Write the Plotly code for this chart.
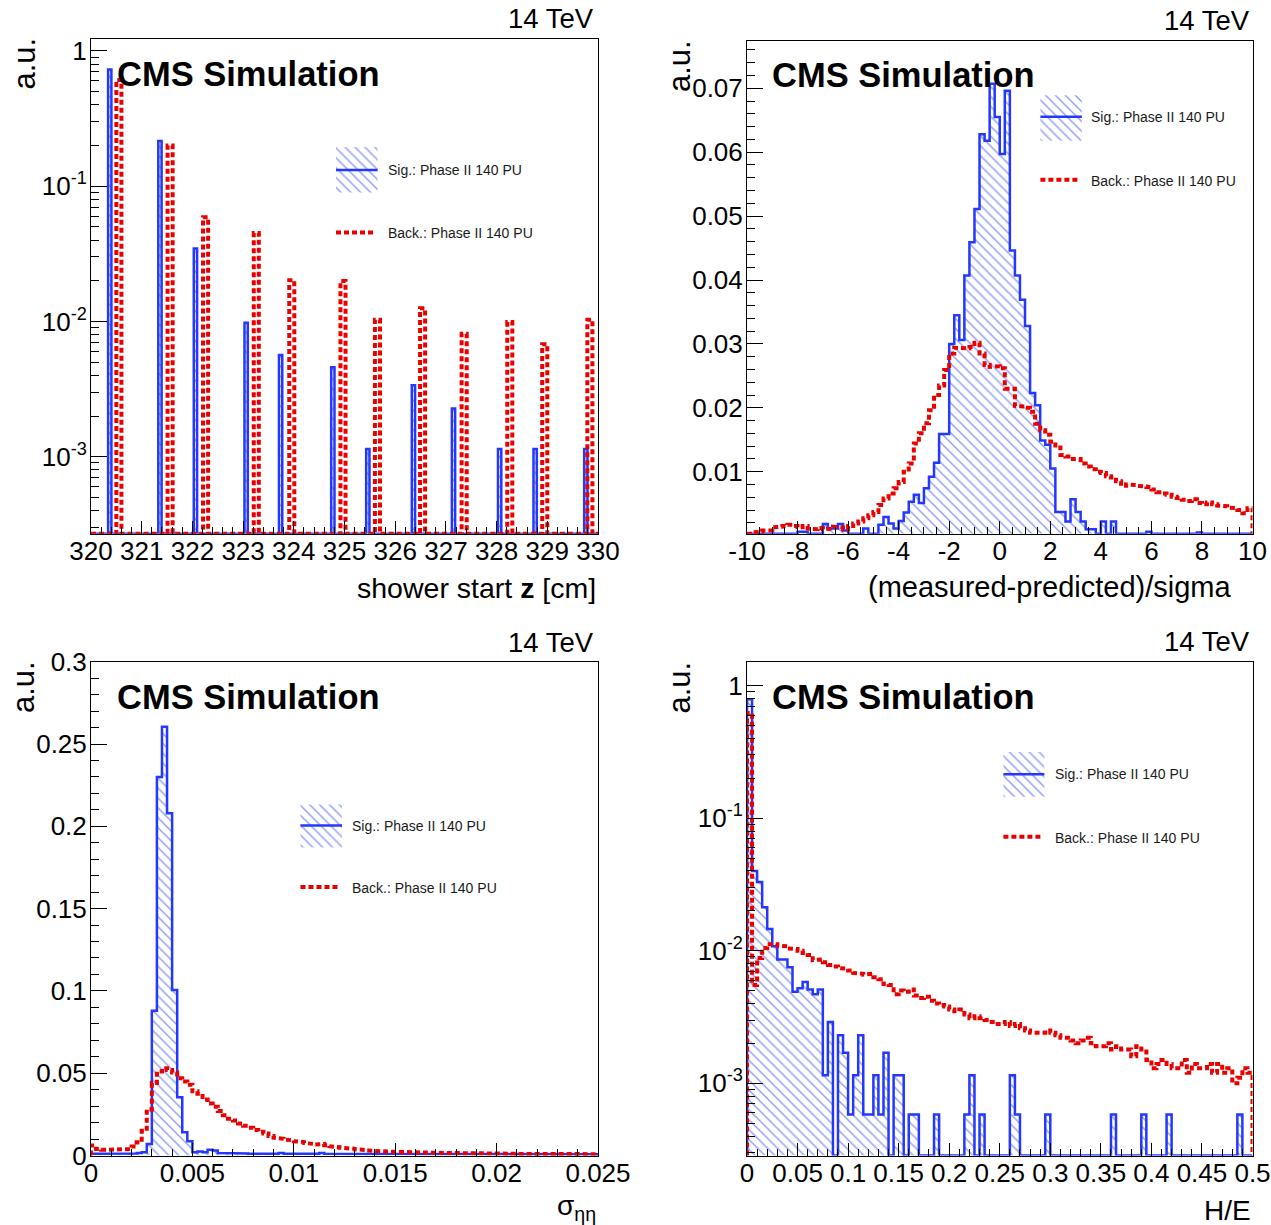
import plotly.graph_objects as go

W, H = 1271, 1225

# ---------------- DATA ----------------
# Panel 1: shower start z [cm] (narrow histogram bins)
sig_z_centers = [320.37, 321.36, 322.06, 323.06, 323.74, 324.77, 325.46, 326.36, 327.15, 328.06, 328.76, 329.76]
sig_z_values = [0.73, 0.216, 0.0347, 0.0098, 0.00566, 0.00458, 0.00114, 0.00338, 0.00227, 0.00114, 0.00114, 0.00114]
bkg_z_centers = [320.55, 321.56, 322.26, 323.26, 323.96, 324.97, 325.65, 326.54, 327.36, 328.26, 328.95, 329.84]
bkg_z_values = [0.61, 0.20, 0.059, 0.045, 0.0202, 0.0199, 0.0103, 0.0125, 0.0081, 0.0099, 0.0068, 0.0103]
z_range = [320, 330]

# Panel 2: (measured-predicted)/sigma, 100 bins in [-10, 10]
pull_range = [-10, 10]
pull_ticks = [-10, -8, -6, -4, -2, 0, 2, 4, 6, 8, 10]
pull_ticklabels = ["-10", "-8", "-6", "-4", "-2", "0", "2", "4", "6", "8", "10"]
sig_pull = [
    0, 0, 0, 0, 0, 0, 0, 0, 0, 0,
    0.0006, 0.0006, 0, 0, 0, 0.0018, 0.0011, 0.0011, 0.0018, 0.0008,
    0, 0, 0, 0.0011, 0, 0, 0.0017, 0.0029, 0.0019, 0.0011,
    0.0023, 0.0036, 0.0053, 0.0064, 0.0051, 0.0074, 0.0092, 0.0114, 0.0159, 0.0159,
    0.0300, 0.0345, 0.0306, 0.0407, 0.0459, 0.0511, 0.0628, 0.0618, 0.0707, 0.0655,
    0.0597, 0.0696, 0.0446, 0.0407, 0.0369, 0.0328, 0.0223, 0.0204, 0.0149, 0.0142,
    0.0105, 0.0037, 0.0037, 0.0022, 0.0057, 0.0037, 0.0022, 0.0010, 0.0010, 0,
    0.0022, 0, 0.0022, 0, 0, 0, 0, 0, 0, 0.0006,
    0, 0, 0, 0, 0, 0, 0, 0, 0, 0.0005,
    0, 0, 0, 0, 0, 0, 0, 0, 0, 0,
]
bkg_pull = [
    0.0003, 0.0005, 0.0006, 0.0008, 0.0008, 0.0013, 0.0014, 0.0015, 0.0017, 0.0015,
    0.0013, 0.0015, 0.0011, 0.0010, 0.0012, 0.0010, 0.0011, 0.0014, 0.0013, 0.0010,
    0.0015, 0.0019, 0.0022, 0.0027, 0.0032, 0.0037, 0.0048, 0.0058, 0.0066, 0.0074,
    0.0084, 0.0100, 0.0113, 0.0144, 0.0160, 0.0176, 0.0196, 0.0220, 0.0235, 0.0259,
    0.0285, 0.0294, 0.0294, 0.0293, 0.0295, 0.0302, 0.0285, 0.0267, 0.0264, 0.0265,
    0.0262, 0.0230, 0.0230, 0.0203, 0.0202, 0.0200, 0.0194, 0.0175, 0.0165, 0.0158,
    0.0147, 0.0138, 0.0126, 0.0124, 0.0120, 0.0120, 0.0113, 0.0108, 0.0104, 0.0100,
    0.0098, 0.0093, 0.0091, 0.0085, 0.0078, 0.0080, 0.0079, 0.0078, 0.0077, 0.0076,
    0.0072, 0.0068, 0.0066, 0.0064, 0.0061, 0.0059, 0.0056, 0.0054, 0.0057, 0.0051,
    0.0049, 0.0052, 0.0049, 0.0047, 0.0046, 0.0044, 0.0043, 0.0040, 0.0035, 0.0043,
]

# Panel 3: sigma_ieta_ieta, 100 bins in [0, 0.025]
sieie_range = [0, 0.025]
sig_sieie = [
    0.0010, 0.0010, 0.0012, 0.0010, 0.0010, 0.0012, 0.0010, 0.0010, 0.0012, 0.0015,
    0.0020, 0.0070, 0.0880, 0.2300, 0.2605, 0.2080, 0.1006, 0.0354, 0.0142, 0.0087,
    0.0020, 0.0025, 0.0020, 0.0035, 0.0030, 0.0015, 0.0015, 0.0012, 0.0015, 0.0012,
    0.0012, 0.0010, 0.0012, 0.0010, 0.0012, 0.0010, 0.0010, 0.0015, 0.0010, 0.0010,
    0.0010, 0.0012, 0.0010, 0.0012, 0.0010, 0.0015, 0.0010, 0.0010, 0.0010, 0.0012,
    0.0010, 0.0010, 0.0008, 0.0010, 0.0010, 0.0008, 0.0010, 0.0008, 0.0010, 0.0008,
    0.0008, 0.0010, 0.0008, 0.0008, 0.0010, 0.0008, 0.0008, 0.0008, 0.0010, 0.0008,
    0.0008, 0.0008, 0.0008, 0.0010, 0.0008, 0.0008, 0.0008, 0.0008, 0.0008, 0.0008,
    0.0008, 0.0008, 0.0008, 0.0008, 0.0008, 0.0008, 0.0008, 0.0008, 0.0008, 0.0008,
    0.0008, 0.0008, 0.0008, 0.0008, 0.0008, 0.0008, 0.0008, 0.0008, 0.0008, 0.0008,
]
bkg_sieie = [
    0.0060, 0.0040, 0.0035, 0.0035, 0.0035, 0.0035, 0.0036, 0.0040, 0.0055, 0.0080,
    0.0150, 0.0280, 0.0440, 0.0510, 0.0530, 0.0520, 0.0505, 0.0470, 0.0450, 0.0430,
    0.0390, 0.0375, 0.0340, 0.0316, 0.0296, 0.0271, 0.0245, 0.0224, 0.0212, 0.0194,
    0.0180, 0.0169, 0.0155, 0.0145, 0.0133, 0.0118, 0.0108, 0.0102, 0.0097, 0.0092,
    0.0086, 0.0082, 0.0076, 0.0070, 0.0066, 0.0070, 0.0063, 0.0056, 0.0051, 0.0047,
    0.0044, 0.0041, 0.0038, 0.0034, 0.0031, 0.0029, 0.0027, 0.0025, 0.0024, 0.0022,
    0.0021, 0.0020, 0.0019, 0.0019, 0.0018, 0.0018, 0.0017, 0.0016, 0.0017, 0.0015,
    0.0015, 0.0014, 0.0015, 0.0013, 0.0014, 0.0013, 0.0012, 0.0013, 0.0012, 0.0011,
    0.0012, 0.0012, 0.0011, 0.0010, 0.0012, 0.0011, 0.0010, 0.0011, 0.0010, 0.0011,
    0.0010, 0.0009, 0.0011, 0.0010, 0.0009, 0.0010, 0.0009, 0.0010, 0.0009, 0.0008,
]

# Panel 4: H/E, 100 bins in [0, 0.5]
hoe_range = [0, 0.5]
sig_hoe = [
    0.79, 0.040, 0.033, 0.0213, 0.0146, 0.0108, 0.0086, 0.0086, 0.0075, 0.0049,
    0.0052, 0.0058, 0.0051, 0.0047, 0.0051, 0.00115, 0.0029, 0, 0.0023, 0.0017,
    0.00058, 0.00115, 0.0023, 0.00058, 0.00058, 0.00115, 0.00058, 0.0017, 0, 0.00115,
    0.00115, 0, 0.00058, 0.00058, 0, 0, 0, 0.00058, 0, 0,
    0, 0, 0, 0.00058, 0.00115, 0, 0.00058, 0, 0, 0,
    0, 0, 0.00115, 0.00058, 0, 0, 0, 0, 0, 0.00058,
    0, 0, 0, 0, 0, 0, 0, 0, 0, 0,
    0, 0, 0.00058, 0, 0, 0, 0, 0, 0.00058, 0,
    0, 0, 0, 0.00058, 0, 0, 0, 0, 0, 0,
    0, 0, 0, 0, 0, 0, 0, 0.00058, 0, 0,
]
bkg_hoe = [
    0.62, 0.0055, 0.0088, 0.0105, 0.0112, 0.0112, 0.0109, 0.0108, 0.0104, 0.0103,
    0.0100, 0.0096, 0.0093, 0.0085, 0.0086, 0.0082, 0.0078, 0.0076, 0.0074, 0.0073,
    0.0071, 0.0068, 0.0067, 0.0066, 0.0067, 0.0063, 0.0061, 0.0056, 0.0055, 0.0047,
    0.0050, 0.0049, 0.0051, 0.0046, 0.0044, 0.0045, 0.0042, 0.0040, 0.0039, 0.0038,
    0.0036, 0.0035, 0.0036, 0.0033, 0.0031, 0.0032, 0.0031, 0.0030, 0.0029, 0.0028,
    0.0028, 0.0029, 0.0027, 0.0028, 0.0026, 0.0025, 0.0024, 0.0024, 0.0024, 0.0025,
    0.0024, 0.0023, 0.0022, 0.0022, 0.0021, 0.0020, 0.0021, 0.0022, 0.0020, 0.0019,
    0.0019, 0.0020, 0.0018, 0.0019, 0.0018, 0.0018, 0.0016, 0.0019, 0.0018, 0.0015,
    0.0013, 0.0014, 0.0015, 0.0014, 0.0013, 0.0013, 0.0015, 0.0012, 0.0014, 0.0013,
    0.0013, 0.0014, 0.0012, 0.0014, 0.0012, 0.0013, 0.0010, 0.0011, 0.0013, 0.0012,
]

log_ticks = [1e-3, 1e-2, 1e-1, 1]
log_ticklabels = ["10<sup>-3</sup>", "10<sup>-2</sup>", "10<sup>-1</sup>", "1"]
sig_label = "Sig.: Phase II 140 PU"
bkg_label = "Back.: Phase II 140 PU"

# ---------------- STYLE ----------------
BLUE = "rgb(35,55,255)"
RED = "rgb(235,0,0)"
HATCH = dict(shape="\\", size=7, solidity=0.2, fgcolor="rgba(110,130,240,0.8)", bgcolor="rgba(255,255,255,0)")
FONT = "Liberation Sans"
RED_DASH = "5px,3px"

# frames in pixel coordinates (x0, x1, ytop, ybottom)
frames = {
    1: (91, 598, 38.5, 533.7),
    2: (747, 1252.5, 41, 533.7),
    3: (91, 598, 661.7, 1155.5),
    4: (747, 1252.5, 662.4, 1155.5),
}


def dom(i):
    x0, x1, yt, yb = frames[i]
    return [x0 / W, x1 / W], [1 - yb / H, 1 - yt / H]


def step_path(lo, hi, vals, floor):
    n = len(vals)
    w = (hi - lo) / n
    xs, ys = [lo], [floor]
    for i, v in enumerate(vals):
        v = max(v, floor)
        xs += [lo + i * w, lo + (i + 1) * w]
        ys += [v, v]
    xs.append(hi)
    ys.append(floor)
    return xs, ys


def bar_path(centers, vals, width, lo, hi, floor):
    xs, ys = [lo], [floor]
    for c, v in zip(centers, vals):
        a, b = c - width / 2, c + width / 2
        xs += [a, a, b, b]
        ys += [floor, max(v, floor), max(v, floor), floor]
    xs.append(hi)
    ys.append(floor)
    return xs, ys


fig = go.Figure()


def add_hists(i, sig_xy, bkg_xy):
    xa, ya = ("x", "y") if i == 1 else (f"x{i}", f"y{i}")
    fig.add_trace(go.Scatter(x=sig_xy[0], y=sig_xy[1], xaxis=xa, yaxis=ya, mode="lines",
                             fill="toself", fillcolor="rgba(255,255,255,0)", fillpattern=HATCH,
                             line=dict(color=BLUE, width=2.5), hoverinfo="skip"))
    fig.add_trace(go.Scatter(x=bkg_xy[0], y=bkg_xy[1], xaxis=xa, yaxis=ya, mode="lines",
                             line=dict(color=RED, width=4, dash=RED_DASH), hoverinfo="skip"))


# y-range definitions
y1_log = [-3.569, 0.092]
y2_lin = [0.0003, 0.0774]
y3_lin = [0.0, 0.3]
y4_log = [-3.545, 0.175]

f1 = 10 ** y1_log[0]
add_hists(1, bar_path(sig_z_centers, sig_z_values, 0.065, z_range[0], z_range[1], f1),
          bar_path(bkg_z_centers, bkg_z_values, 0.10, z_range[0], z_range[1], f1))
add_hists(2, step_path(pull_range[0], pull_range[1], sig_pull, y2_lin[0]),
          step_path(pull_range[0], pull_range[1], bkg_pull, y2_lin[0]))
add_hists(3, step_path(sieie_range[0], sieie_range[1], sig_sieie, y3_lin[0]),
          step_path(sieie_range[0], sieie_range[1], bkg_sieie, y3_lin[0]))
f4 = 10 ** y4_log[0]
add_hists(4, step_path(hoe_range[0], hoe_range[1], sig_hoe, f4),
          step_path(hoe_range[0], hoe_range[1], bkg_hoe, f4))

# ---------------- AXES ----------------
TICKFONT = dict(family=FONT, size=26, color="black")


def base_axis(kind):
    d = dict(showline=True, linecolor="black", linewidth=1, mirror=True, ticks="inside",
             tickcolor="black", tickwidth=1, showgrid=False, zeroline=False, automargin=False,
             tickfont=TICKFONT, fixedrange=True)
    d["ticklabelstandoff"] = -6 if kind == "x" else -2
    return d


def log_minor(lo, hi):
    vals = []
    for e in range(int(lo) - 1, int(hi) + 1):
        for m in range(2, 10):
            v = m * 10 ** e
            if 10 ** lo <= v <= 10 ** hi:
                vals.append(v)
    return vals


layout_axes = {}
# panel 1
xd, yd = dom(1)
layout_axes["xaxis"] = dict(base_axis("x"), domain=xd, anchor="y", range=z_range, tick0=320, dtick=1, ticklen=13,
                            minor=dict(ticks="inside", tick0=320, dtick=0.2, ticklen=7, tickcolor="black"))
layout_axes["yaxis"] = dict(base_axis("y"), domain=yd, anchor="x", type="log", range=y1_log, tickmode="array",
                            tickvals=log_ticks, ticktext=log_ticklabels, ticklen=16,
                            minor=dict(ticks="inside", tickmode="array", tickvals=log_minor(*y1_log), ticklen=8,
                                       tickcolor="black"))
# panel 2
xd, yd = dom(2)
layout_axes["xaxis2"] = dict(base_axis("x"), domain=xd, anchor="y2", range=pull_range, tickmode="array",
                             tickvals=pull_ticks, ticktext=pull_ticklabels, ticklen=13,
                             minor=dict(ticks="inside", tickmode="linear", tick0=-10, dtick=0.5, ticklen=7,
                                        tickcolor="black"))
layout_axes["yaxis2"] = dict(base_axis("y"), domain=yd, anchor="x2", range=y2_lin, tick0=0, dtick=0.01, ticklen=16,
                             minor=dict(ticks="inside", tick0=0, dtick=0.002, ticklen=8, tickcolor="black"))
# panel 3
xd, yd = dom(3)
layout_axes["xaxis3"] = dict(base_axis("x"), domain=xd, anchor="y3", range=sieie_range, tick0=0, dtick=0.005,
                             ticklen=13, minor=dict(ticks="inside", tick0=0, dtick=0.001, ticklen=7, tickcolor="black"))
layout_axes["yaxis3"] = dict(base_axis("y"), domain=yd, anchor="x3", range=y3_lin, tick0=0, dtick=0.05, ticklen=16,
                             minor=dict(ticks="inside", tick0=0, dtick=0.01, ticklen=8, tickcolor="black"))
# panel 4
xd, yd = dom(4)
layout_axes["xaxis4"] = dict(base_axis("x"), domain=xd, anchor="y4", range=hoe_range, tick0=0, dtick=0.05,
                             ticklen=13,
                             minor=dict(ticks="inside", tick0=0, dtick=0.01, ticklen=7, tickcolor="black"))
layout_axes["yaxis4"] = dict(base_axis("y"), domain=yd, anchor="x4", type="log", range=y4_log, tickmode="array",
                             tickvals=log_ticks, ticktext=log_ticklabels, ticklen=16,
                             minor=dict(ticks="inside", tickmode="array", tickvals=log_minor(*y4_log), ticklen=8,
                                        tickcolor="black"))
# overlay axes in pixel units for legends and texts
layout_axes["xaxis5"] = dict(domain=[0, 1], range=[0, W], visible=False, anchor="y5", fixedrange=True,
                             automargin=False)
layout_axes["yaxis5"] = dict(domain=[0, 1], range=[H, 0], visible=False, anchor="x5", fixedrange=True,
                             automargin=False)

# ---------------- LEGENDS (pixel overlay) ----------------
legends = [
    # box x0, x1, ytop, ybottom, sig line y, bkg line y, bkg line x1, text x
    (336, 377.6, 147, 192.6, 170, 232.6, 375.6, 385.5),
    (1040.4, 1081.8, 95.3, 140.8, 116.7, 179.7, 1079.4, 1088.7),
    (300.5, 342, 804.4, 847.6, 825.6, 887, 340, 350),
    (1003.4, 1044.4, 752, 796.7, 774.3, 836.8, 1042.4, 1052.5),
]
ann = []
for (bx0, bx1, byt, byb, ly, ry, rx1, tx) in legends:
    fig.add_trace(go.Scatter(x=[bx0, bx1, bx1, bx0, bx0], y=[byt, byt, byb, byb, byt], xaxis="x5", yaxis="y5",
                             mode="lines", fill="toself", fillcolor="rgba(255,255,255,0)", fillpattern=HATCH,
                             line=dict(width=0, color="rgba(0,0,0,0)"), hoverinfo="skip"))
    fig.add_trace(go.Scatter(x=[bx0, bx1], y=[ly, ly], xaxis="x5", yaxis="y5", mode="lines",
                             line=dict(color=BLUE, width=2.5), hoverinfo="skip"))
    fig.add_trace(go.Scatter(x=[bx0, rx1], y=[ry, ry], xaxis="x5", yaxis="y5", mode="lines",
                             line=dict(color=RED, width=4, dash=RED_DASH), hoverinfo="skip"))
    for yy, s in ((ly, sig_label), (ry + 0.8, bkg_label)):
        ann.append(dict(x=tx, y=yy, text=s, xanchor="left", yanchor="middle",
                        font=dict(family=FONT, size=14, color="#1a1a1a")))


def txt(x, y, s, size, xanchor="left", yanchor="middle", angle=0):
    ann.append(dict(x=x, y=y, text=s, xanchor=xanchor, yanchor=yanchor, textangle=angle,
                    font=dict(family=FONT, size=size, color="black")))


for (x, y) in [(114.5, 73.5), (769.8, 75), (114.5, 696.6), (769.8, 697)]:
    txt(x, y, "<b>CMS Simulation</b>", 34.5)
for (x, y) in [(595.5, 18.5), (1251.5, 20), (595.5, 642), (1252, 641)]:
    txt(x, y, "14 TeV", 27.5, xanchor="right")
for (x, y) in [(23.5, 64), (679, 66), (23.5, 687.5), (679, 687.5)]:
    txt(x, y, "a.u.", 31, xanchor="center", angle=-90)
txt(598, 588, "shower start <b>z</b> [cm]", 28.5, xanchor="right")
txt(1234, 587, "(measured-predicted)/sigma", 29, xanchor="right")
txt(598, 1207, "σ<sub>ηη</sub>", 28, xanchor="right")
txt(1252.5, 1210, "H/E", 28, xanchor="right")

for a in ann:
    a.update(xref="x5", yref="y5", showarrow=False)

fig.update_layout(
    template="none",
    width=W, height=H, margin=dict(l=0, r=0, t=0, b=0, pad=0, autoexpand=False),
    paper_bgcolor="white", plot_bgcolor="rgba(0,0,0,0)",
    showlegend=False, annotations=ann, font=dict(family=FONT),
    **layout_axes,
)

fig.write_html("out.html")
